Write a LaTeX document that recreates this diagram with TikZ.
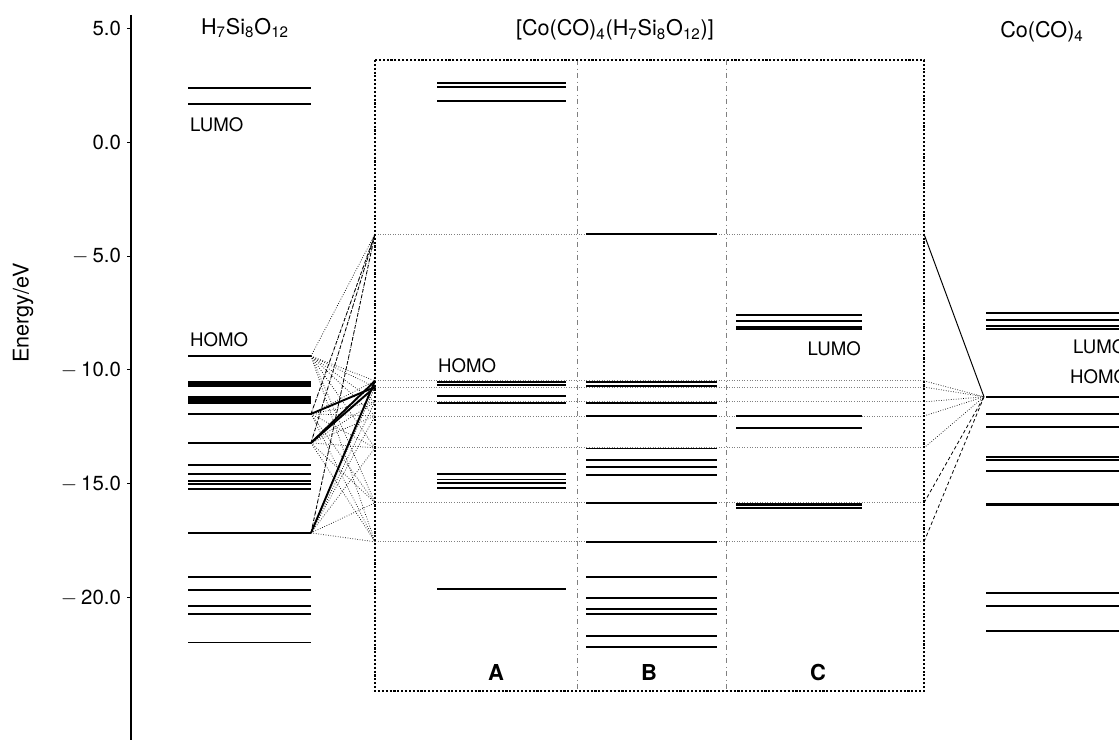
\documentclass[tikz,border=0pt]{standalone}
\usepackage{fontspec}
\setmainfont{TeX Gyre Heros}
\usetikzlibrary{positioning}

\begin{document}
\begin{tikzpicture}[
    x=0.02cm, y=0.456cm,
    every node/.style={font=\fontsize{10.6pt}{12pt}\selectfont, inner sep=1pt},
    title/.style={font=\fontsize{12.3pt}{14pt}\selectfont},
    ticklbl/.style={font=\fontsize{11.6pt}{13pt}\selectfont, anchor=east},
    mo/.style={line width=0.8pt},
    guide/.style={densely dotted, gray, line width=0.45pt},
    corr/.style={densely dotted, line width=0.4pt},
    corrdash/.style={dashed, dash pattern=on 2pt off 1.5pt, line width=0.45pt},
    strong/.style={line width=1.1pt},
    frame/.style={densely dotted, line width=1.2pt},
    divider/.style={dash dot, gray, line width=0.45pt},
    tag/.style={font=\fontsize{12.5pt}{14pt}\selectfont\bfseries}
  ]
  \clip (0,6.228) rectangle (1119,-26.228);

  % energy axis
  \draw[line width=0.6pt] (131,5.57) -- (131,-26.3);
  \foreach \e/\t in {5/5.0, 0/0.0, -5/{$-$\hspace{0.2em}5.0}, -10/{$-$\hspace{0.2em}10.0},
                     -15/{$-$\hspace{0.2em}15.0}, -20/{$-$\hspace{0.2em}20.0}} {
    \draw[line width=0.5pt] (127,\e) -- (131,\e);
    \node[ticklbl] (tk\e) at (123,\e) {\t};
  }
  \node[rotate=90, title] (ylab) at (23,-7.5) {Energy/eV};

  % headings
  \node[title] (hcage) at (245,5.0) {H\textsubscript{7}Si\textsubscript{8}O\textsubscript{12}};
  \node[title] (hcplx) at (615,4.91) {[Co(CO)\textsubscript{4}(H\textsubscript{7}Si\textsubscript{8}O\textsubscript{12})]};
  \node[title] (hco) at (1042,4.82) {Co(CO)\textsubscript{4}};

  % complex box
  \foreach \e in {-4.04, -10.48, -10.75, -11.40, -12.02, -13.42, -15.83, -17.54}
    \draw[guide] (375,\e) -- (924,\e);
  \draw[divider] (577,3.60) -- (577,-24.08);
  \draw[divider] (726,3.60) -- (726,-24.08);
  \draw[frame] (375,3.60) rectangle (924,-24.08);

  % H7Si8O12 levels
  \foreach \e in {2.37, 1.67, -9.39, -10.53, -10.61, -10.70, -11.18, -11.27, -11.36, -11.45,
                  -11.93, -13.20, -14.17, -14.56, -14.87, -15.00, -15.22, -17.15,
                  -19.08, -19.65, -20.35, -20.70, -21.97}
    \draw[mo] (188,\e) -- (311,\e);
  \node[anchor=west] (lumo1) at (188,0.75) {LUMO};
  \node[anchor=west] (homo1) at (188,-8.68) {HOMO};

  % column A
  \foreach \e in {2.59, 2.41, 1.80, -10.53, -10.66, -11.14, -11.45,
                  -14.56, -14.82, -14.96, -15.18, -19.61}
    \draw[mo] (437,\e) -- (566,\e);
  \node[anchor=west] (homoA) at (436,-9.82) {HOMO};
  \node[tag] (colA) at (496,-23.29) {A};

  % column B
  \foreach \e in {-4.04, -10.53, -10.70, -11.45, -12.02, -13.46, -13.95, -14.25, -14.61,
                  -15.83, -17.54, -19.08, -20.00, -20.48, -20.70, -21.67, -22.15}
    \draw[mo] (586,\e) -- (717,\e);
  \node[tag] (colB) at (649,-23.29) {B};

  % column C
  \foreach \e in {-7.59, -7.85, -8.11, -8.20, -12.02, -12.54, -15.88, -15.96, -16.05}
    \draw[mo] (736,\e) -- (862,\e);
  \node[anchor=east] (lumoC) at (863,-9.08) {LUMO};
  \node[tag] (colC) at (818,-23.29) {C};

  % Co(CO)4 levels
  \foreach \e in {-7.50, -7.81, -8.07, -8.20, -11.18, -11.93, -12.50, -13.82, -13.95,
                  -14.43, -15.88, -15.96, -19.78, -20.35, -21.45}
    \draw[mo] (986,\e) -- (1130,\e);
  \node[anchor=west] (lumo2) at (1071,-8.99) {LUMO};
  \node[anchor=west] (homo2) at (1068,-10.31) {HOMO};

  % correlation lines
  \foreach \n/\e in {1/-9.39, 2/-11.93, 3/-13.20, 4/-17.15}
    \coordinate (src\n) at (311,\e);
  \foreach \n/\e in {1/-4.04, 2/-10.48, 3/-10.75, 4/-11.40, 5/-12.02, 6/-13.42, 7/-15.83, 8/-17.54} {
    \coordinate (inL\n) at (375,\e);
    \coordinate (inR\n) at (924,\e);
  }
  \coordinate (apex) at (984,-11.18);

  \foreach \s in {1,...,4}
    \foreach \t in {1,...,8}
      \draw[corr] (src\s) -- (inL\t);
  \foreach \s in {2,3,4}
    \draw[corrdash] (src\s) -- (inL1);
  \draw[strong] (src3) -- (inL2);
  \draw[strong] (src4) -- (inL2);
  \draw[strong] (src2) -- (inL3);
  \draw[strong] (src3) -- (inL3);

  \foreach \t in {2,...,6}
    \draw[corr] (inR\t) -- (apex);
  \draw[line width=0.55pt] (inR1) -- (apex);
  \draw[corrdash] (inR7) -- (apex);
  \draw[corrdash] (inR8) -- (apex);
\end{tikzpicture}
\end{document}
